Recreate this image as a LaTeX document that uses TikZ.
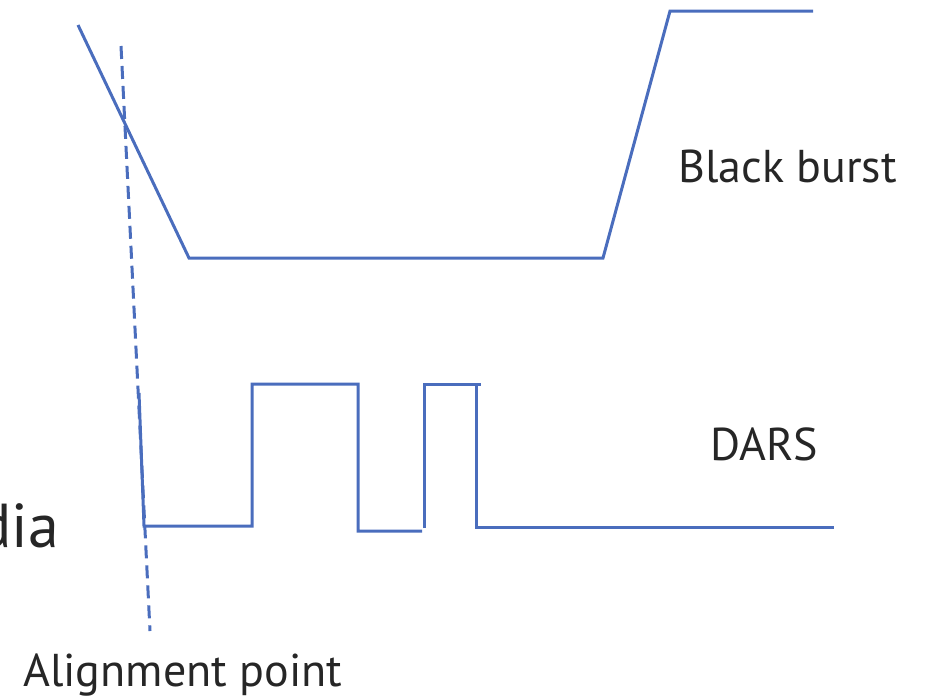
\documentclass[tikz,border=0pt]{standalone}
\usepackage{fontspec}
\setmainfont{PT Sans}
\definecolor{wave}{HTML}{4A6DBD}
\definecolor{txt}{HTML}{262626}
\begin{document}
\begin{tikzpicture}[x=1pt,y=-1pt,
  wavel/.style={draw=wave,line width=3pt,line join=miter},
  dashl/.style={draw=wave,line width=3pt,dash pattern=on 13pt off 7pt},
  lbl/.style={text=txt,inner sep=0pt,font=\fontsize{46}{50}\selectfont}]
\useasboundingbox (0,0) rectangle (926,697);
% black burst
\coordinate (b1) at (78,25);
\coordinate (b2) at (189,258);
\coordinate (b3) at (603,258);
\coordinate (b4) at (670,11);
\coordinate (b5) at (813,11);
\draw[wavel] (b1) -- (b2) -- (b3) -- (b4) -- (b5);
% alignment dashed line
\coordinate (d1) at (121,46);
\coordinate (d2) at (150,631);
\draw[dashl] (d1) -- (d2);
% DARS
\coordinate (s0) at (139,393);
\coordinate (s1) at (144,526);
\coordinate (s2) at (252,526);
\coordinate (s3) at (252,384);
\coordinate (s4) at (358,384);
\coordinate (s5) at (358,531);
\coordinate (s6) at (422,531);
\draw[wavel] (s0) -- (s1) -- (s2) -- (s3) -- (s4) -- (s5) -- (s6);
\coordinate (t0) at (424,528);
\coordinate (t1) at (424,384);
\coordinate (t2) at (481,384);
\draw[wavel] (t0) -- (t1) -- (t2);
\coordinate (u0) at (476,384);
\coordinate (u1) at (476,527);
\coordinate (u2) at (834,527);
\draw[wavel] (u0) -- (u1) -- (u2);
% labels
\node[lbl,anchor=base west] (bb) at (678,182) {Black burst};
\node[lbl,anchor=base west] (dars) at (710,460) {DARS};
\node[lbl,anchor=base west] (ap) at (23,686) {Alignment point};
\node[lbl,anchor=base east,font=\fontsize{62}{66}\selectfont] (media) at (59,547) {dia};
\end{tikzpicture}
\end{document}
